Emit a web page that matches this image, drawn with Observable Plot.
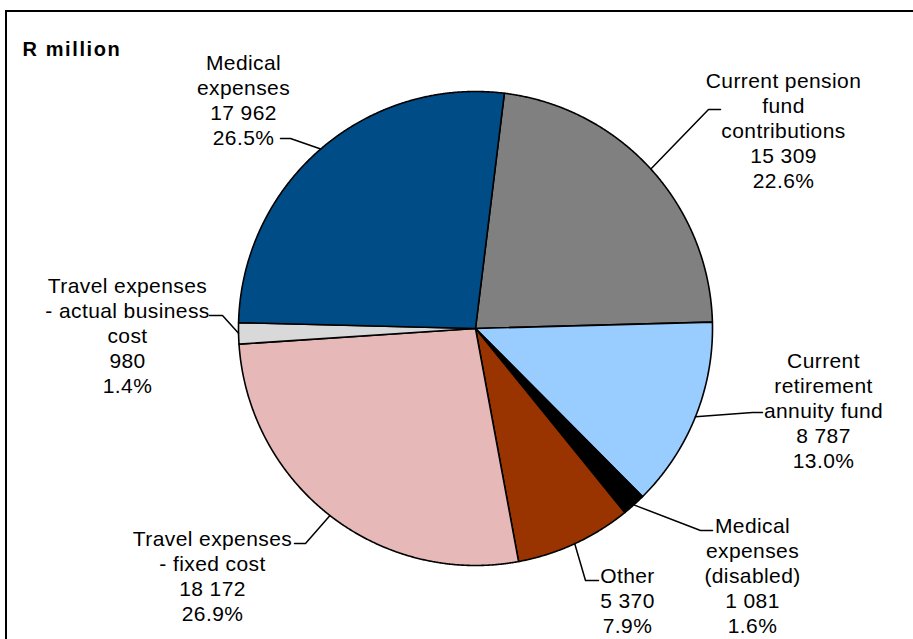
<!DOCTYPE html>
<html><head><meta charset="utf-8">
<script src="https://cdn.jsdelivr.net/npm/d3@7"></script>
<script src="https://cdn.jsdelivr.net/npm/@observablehq/plot@0.6"></script>
<style>
html,body{margin:0;padding:0;overflow:hidden;background:#fff}
</style>
</head><body><div id="chart"></div>
<script>
// ---- data ----
const categories = ["Current pension fund contributions", "Current retirement annuity fund", "Medical expenses (disabled)", "Other", "Travel expenses - fixed cost", "Travel expenses - actual business cost", "Medical expenses"];
const labelLines = [["Current pension", "fund", "contributions"], ["Current", "retirement", "annuity fund"], ["Medical", "expenses", "(disabled)"], ["Other"], ["Travel expenses", "- fixed cost"], ["Travel expenses", "- actual business", "cost"], ["Medical", "expenses"]];
const values = [15309, 8787, 1081, 5370, 18172, 980, 17962];
const valueLabels = ["15 309", "8 787", "1 081", "5 370", "18 172", "980", "17 962"];
const percentLabels = ["22.6%", "13.0%", "1.6%", "7.9%", "26.9%", "1.4%", "26.5%"];
const unitLabel = "R million";

// ---- styles ----
const colors = ["#808080", "#99CCFF", "#000000", "#993300", "#E6B9B8", "#D9D9D9", "#004C86"];
const FONT = "Liberation Sans, Arial, sans-serif";
const FS = 21;

// ---- layout ----
const cx = 475, cy = 328, R = 237, startDeg = 7;
// label: center x, first baseline y; leader: text-end point x, elbow x, y
const labelLayout = [
  {x: 783, y: 85,  tx: 720, ex: 708, ly: 109},
  {x: 823, y: 365, tx: 762, ex: 752, ly: 412},
  {x: 752, y: 530, tx: 712, ex: 700, ly: 530},
  {x: 627, y: 580, tx: 598, ex: 585, ly: 580},
  {x: 212, y: 543, tx: 294, ex: 305, ly: 543},
  {x: 127, y: 290, tx: 209, ex: 222, ly: 315},
  {x: 243, y: 67,  tx: 280, ex: 290, ly: 138}
];

const rad = d => d * Math.PI / 180;
const pie = d3.pie().sort(null).value(d => d).startAngle(rad(startDeg)).endAngle(rad(startDeg + 360));
const arcs = pie(values);
const pt = (a, r = R) => ({x: cx + r * Math.sin(a), y: cy - r * Math.cos(a)});

const sliceMarks = arcs.map((a, i) => {
  const pts = [{x: cx, y: cy}];
  const n = Math.max(4, Math.ceil((a.endAngle - a.startAngle) / rad(0.25)));
  for (let k = 0; k <= n; k++) pts.push(pt(a.startAngle + (a.endAngle - a.startAngle) * k / n));
  return Plot.line(pts, {x: "x", y: "y", curve: "linear-closed", fill: colors[i], stroke: "#000", strokeWidth: 1.6, strokeLinejoin: "round"});
});

const leaderMarks = arcs.map((a, i) => {
  const L = labelLayout[i];
  const e = pt((a.startAngle + a.endAngle) / 2);
  return Plot.line([{x: L.tx, y: L.ly}, {x: L.ex, y: L.ly}, e], {x: "x", y: "y", stroke: "#000", strokeWidth: 1.5});
});

const labels = categories.map((c, i) => ({
  x: labelLayout[i].x,
  y: labelLayout[i].y - 0.71 * FS,
  text: [...labelLines[i], valueLabels[i], percentLabels[i]].join("\n")
}));

const chart = Plot.plot({
  width: 913, height: 639, margin: 0,
  x: {domain: [0, 913], range: [0, 913], axis: null},
  y: {domain: [0, 639], range: [0, 639], axis: null},
  style: {background: "#fff", fontFamily: FONT, overflow: "hidden"},
  marks: [
    Plot.rect([{x1: 6, x2: 940, y1: 11, y2: 680}], {x1: "x1", x2: "x2", y1: "y1", y2: "y2", fill: "none", stroke: "#000", strokeWidth: 2}),
    ...sliceMarks,
    ...leaderMarks,
    Plot.text(labels, {x: "x", y: "y", text: "text", fontSize: FS, fontFamily: FONT, lineAnchor: "top", lineHeight: 25 / FS, textAnchor: "middle", fill: "#000", style: "letter-spacing:0.4px"}),
    Plot.text([unitLabel], {x: 22, y: 55, text: d => d, fontSize: 20, fontWeight: "bold", fontFamily: FONT, textAnchor: "start", lineAnchor: "bottom", fill: "#000"})
  ]
});
chart.querySelectorAll("text").forEach(t => {
  if (t.textContent === unitLabel) t.setAttribute("letter-spacing", "1.6");
  else t.setAttribute("letter-spacing", "0.4");
});
document.getElementById("chart").append(chart);
</script>
</body></html>
